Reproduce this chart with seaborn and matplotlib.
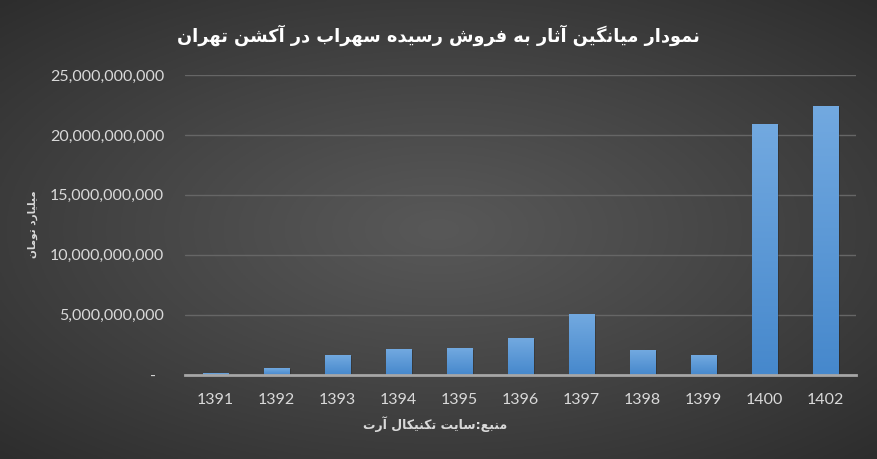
import numpy as np
import matplotlib
matplotlib.use("Agg")
import matplotlib.pyplot as plt
import matplotlib.patheffects as pe
import seaborn as sns

# ------------------------------------------------------------
# data (toman)
# ------------------------------------------------------------
years = ["1391", "1392", "1393", "1394", "1395", "1396",
         "1397", "1398", "1399", "1400", "1402"]
avg_price = [0.12e9, 0.55e9, 1.62e9, 2.12e9, 2.2e9, 3.07e9,
             5.08e9, 2.07e9, 1.65e9, 20.95e9, 22.45e9]
y_ticks = [0, 5e9, 10e9, 15e9, 20e9, 25e9]

title_txt = "نمودار میانگین آثار به فروش رسیده سهراب در آکشن تهران"
source_txt = "منبع:سایت تکنیکال آرت"
ylabel_txt = "میلیارد تومان"

# ------------------------------------------------------------
# tiny arabic/persian shaper (no arabic_reshaper available)
# ------------------------------------------------------------
FORMS = {
    'ا': ('\uFE8D', '\uFE8E', None, None),
    'آ': ('\uFE81', '\uFE82', None, None),
    'د': ('\uFEA9', '\uFEAA', None, None),
    'ر': ('\uFEAD', '\uFEAE', None, None),
    'و': ('\uFEED', '\uFEEE', None, None),
    'ب': ('\uFE8F', '\uFE90', '\uFE91', '\uFE92'),
    'ت': ('\uFE95', '\uFE96', '\uFE97', '\uFE98'),
    'ث': ('\uFE99', '\uFE9A', '\uFE9B', '\uFE9C'),
    'س': ('\uFEB1', '\uFEB2', '\uFEB3', '\uFEB4'),
    'ش': ('\uFEB5', '\uFEB6', '\uFEB7', '\uFEB8'),
    'ع': ('\uFEC9', '\uFECA', '\uFECB', '\uFECC'),
    'ف': ('\uFED1', '\uFED2', '\uFED3', '\uFED4'),
    'ل': ('\uFEDD', '\uFEDE', '\uFEDF', '\uFEE0'),
    'م': ('\uFEE1', '\uFEE2', '\uFEE3', '\uFEE4'),
    'ن': ('\uFEE5', '\uFEE6', '\uFEE7', '\uFEE8'),
    'ه': ('\uFEE9', '\uFEEA', '\uFEEB', '\uFEEC'),
    'ک': ('\uFB8E', '\uFB8F', '\uFB90', '\uFB91'),
    'گ': ('\uFB92', '\uFB93', '\uFB94', '\uFB95'),
    'ی': ('\uFBFC', '\uFBFD', '\uFBFE', '\uFBFF'),
}


def shape(text):
    out = []
    for i, c in enumerate(text):
        if c not in FORMS:
            out.append(c)
            continue
        prev = text[i - 1] if i > 0 else ''
        nxt = text[i + 1] if i < len(text) - 1 else ''
        p = prev in FORMS and FORMS[prev][2] is not None
        q = FORMS[c][2] is not None and nxt in FORMS
        iso, fin, ini, med = FORMS[c]
        out.append(med if (p and q) else fin if p else ini if q else iso)
    return ''.join(reversed(out))


# ------------------------------------------------------------
# figure
# ------------------------------------------------------------
sns.set_style("white")
plt.rcParams['font.family'] = ['Lato', 'DejaVu Sans']

fig = plt.figure(figsize=(8.77, 4.59), dpi=100)

# radial grey background
bg = fig.add_axes([0, 0, 1, 1], zorder=0)
gx, gy = np.meshgrid(np.linspace(-1, 1, 400), np.linspace(-1, 1, 220))
r = np.sqrt((gx * 0.95) ** 2 + (gy * 1.0) ** 2) / np.sqrt(2)
shade = (0x58 - (0x58 - 0x2c) * np.clip(r, 0, 1) ** 1.1) / 255.0
bg.imshow(np.dstack([shade, shade, shade]), extent=[0, 1, 0, 1],
          aspect='auto', origin='lower')
bg.set_axis_off()

ax = fig.add_axes([185 / 877, 1 - 374.5 / 459, 671 / 877, 299.5 / 459], zorder=1)
ax.set_facecolor('none')

sns.barplot(x=years, y=avg_price, ax=ax, color='#5b9bd5', saturation=1,
            width=0.41, zorder=3, linewidth=0)

# vertical blue gradient + soft shadow on each bar
grad = np.linspace(0, 1, 100).reshape(-1, 1)
bot = np.array([0x46, 0x88, 0xcc]) / 255
top = np.array([0x72, 0xa9, 0xe0]) / 255
grad_img = bot + (top - bot) * grad[..., None]
for p in ax.patches:
    x0, y0 = p.get_x(), p.get_y()
    w, h = p.get_width(), p.get_height()
    p.set_path_effects([pe.SimplePatchShadow(offset=(1.5, -1), shadow_rgbFace='black',
                                             alpha=0.18), pe.Normal()])
    im = ax.imshow(grad_img, extent=[x0, x0 + w, y0, y0 + h], aspect='auto',
                   origin='lower', zorder=4)
    im.set_clip_path(p)

ax.set_xlim(-0.5, len(years) - 0.5)
ax.set_ylim(0, 25e9)
ax.set_yticks(y_ticks)
ax.yaxis.set_major_formatter(lambda v, pos: f"{v:,.0f}" if v else "-  ")
ax.grid(axis='y', color='#666666', lw=1, zorder=0)
ax.set_axisbelow(True)

for s in ['top', 'right', 'left']:
    ax.spines[s].set_visible(False)
ax.spines['bottom'].set_color('#a6a6a6')
ax.spines['bottom'].set_linewidth(2)
ax.spines['bottom'].set_zorder(5)

ax.tick_params(axis='both', length=0, colors='#d9d9d9', labelsize=11.5)
ax.tick_params(axis='y', pad=15)
ax.tick_params(axis='x', pad=13)
ax.set_xlabel('')
ax.set_ylabel('')

fig.text(0.5, 1 - 35 / 459, shape(title_txt), ha='center', va='center',
         color='white', fontsize=12.8, fontweight='bold', family=['DejaVu Sans'])
fig.text(435 / 877, 1 - 424 / 459, shape(source_txt), ha='center', va='center',
         color='#d9d9d9', fontsize=9, fontweight='bold', family=['DejaVu Sans'])
fig.text(33 / 877, 1 - 224 / 459, shape(ylabel_txt), ha='center', va='center',
         rotation=90, color='#d9d9d9', fontsize=7.5, fontweight='bold',
         family=['DejaVu Sans'])

fig.savefig("out.png", dpi=100)
